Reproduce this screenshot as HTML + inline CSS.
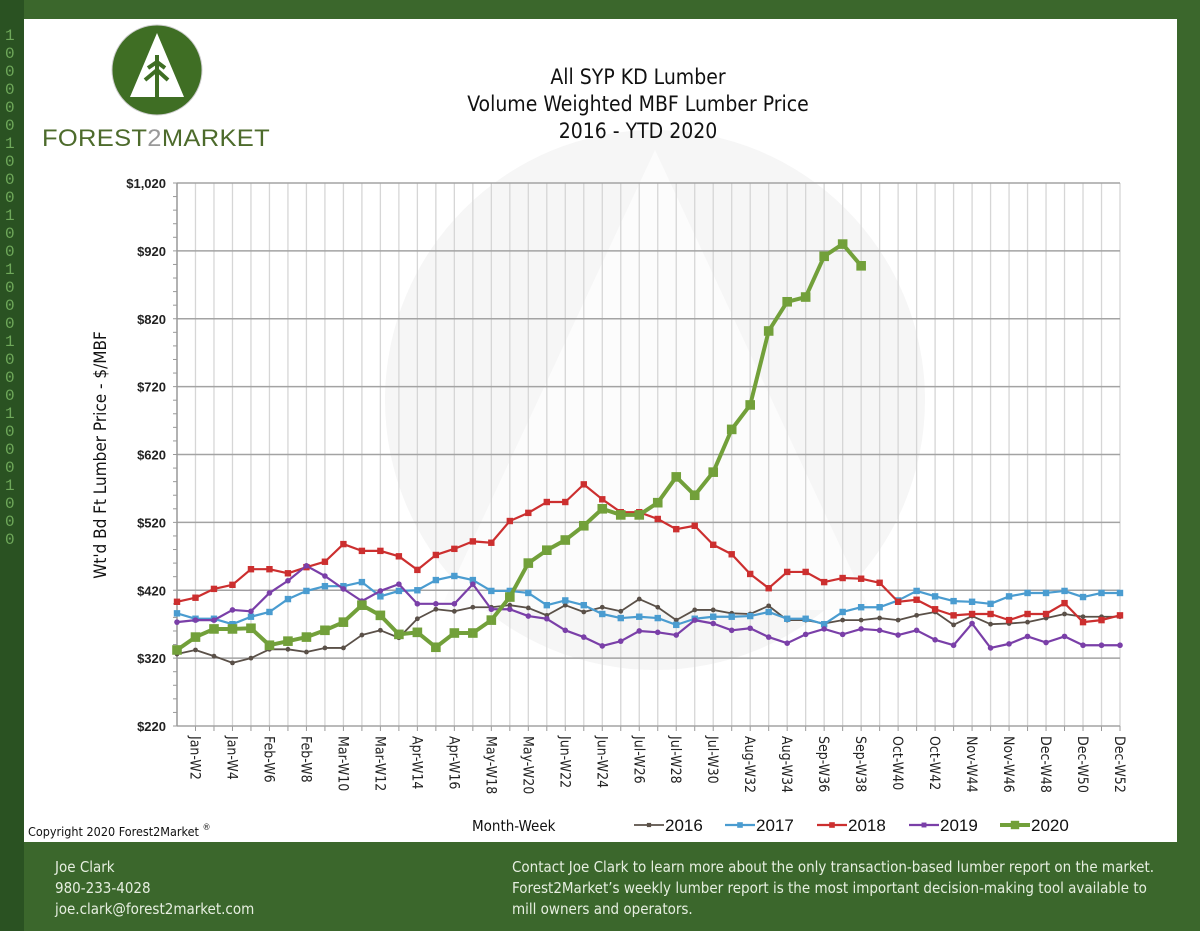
<!DOCTYPE html>
<html><head><meta charset="utf-8"><style>
html,body{margin:0;padding:0;width:1200px;height:931px;overflow:hidden;background:#3b672c;font-family:"Liberation Sans",sans-serif}
#wrap{position:relative;width:1200px;height:931px}
.foot{position:absolute;color:#e6eee0;font-family:"DejaVu Sans Condensed","Liberation Sans",sans-serif;font-size:15px;line-height:21px}
</style></head><body>
<div id="wrap">
<svg width="1200" height="931" style="position:absolute;left:0;top:0">
<rect x="0" y="0" width="24" height="931" fill="#2a5222"/>
<g fill="#6fa85a" font-size="16" font-family="Liberation Mono">
<text x="5" y="40">1</text><text x="5" y="58">0</text><text x="5" y="76">0</text><text x="5" y="94">0</text><text x="5" y="112">0</text><text x="5" y="130">0</text><text x="5" y="148">1</text><text x="5" y="166">0</text><text x="5" y="184">0</text><text x="5" y="202">0</text><text x="5" y="220">1</text><text x="5" y="238">0</text><text x="5" y="256">0</text><text x="5" y="274">1</text><text x="5" y="292">0</text><text x="5" y="310">0</text><text x="5" y="328">0</text><text x="5" y="346">1</text><text x="5" y="364">0</text><text x="5" y="382">0</text><text x="5" y="400">0</text><text x="5" y="418">1</text><text x="5" y="436">0</text><text x="5" y="454">0</text><text x="5" y="472">0</text><text x="5" y="490">1</text><text x="5" y="508">0</text><text x="5" y="526">0</text><text x="5" y="544">0</text>
</g>
<rect x="24" y="19" width="1153" height="823" fill="#fff"/>
<circle cx="655" cy="400" r="270" fill="#f6f6f6"/>
<polygon points="655,150 870,610 440,610" fill="#fcfcfc"/>
<g>
<circle cx="157" cy="70" r="45" fill="#3f6e24" stroke="#ccc" stroke-width="1"/>
<polygon points="157,33 130,97 184,97" fill="#fff"/>
<line x1="157" y1="55" x2="157" y2="98" stroke="#3f6e24" stroke-width="4"/>
<path d="M145,80 L157,70 L168,80 M148,68 L157,62 L165,68" stroke="#3f6e24" stroke-width="4" fill="none"/>
<rect x="135" y="98" width="44" height="8" fill="#3f6e24"/>
</g>
<text x="42" y="146" font-size="24" fill="#4d6b2c" letter-spacing="0.3" textLength="228" lengthAdjust="spacingAndGlyphs">FOREST<tspan fill="#999">2</tspan>MARKET</text>
<g font-family="DejaVu Sans Condensed, Liberation Sans, sans-serif" font-size="21" fill="#111" text-anchor="middle">
<text x="638" y="84">All SYP KD Lumber</text>
<text x="638" y="111">Volume Weighted MBF Lumber Price</text>
<text x="638" y="138">2016 - YTD 2020</text>
</g>
<g id="grid"></g>
<g id="series"></g>
<text transform="translate(106,455) rotate(-90)" text-anchor="middle" font-family="DejaVu Sans Condensed, Liberation Sans, sans-serif" font-size="17" fill="#111">Wt'd Bd Ft Lumber Price - $/MBF</text>
<text x="28" y="836" font-family="DejaVu Sans Condensed, Liberation Sans, sans-serif" font-size="12.5" fill="#111">Copyright 2020 Forest2Market <tspan font-size="9" dy="-6">®</tspan></text>
<text x="472" y="831" font-family="DejaVu Sans Condensed, Liberation Sans, sans-serif" font-size="15" fill="#111">Month-Week</text>
<g id="legend"></g>
</svg>
<div class="foot" style="left:55px;top:857px">Joe Clark<br>980-233-4028<br>joe.clark@forest2market.com</div>
<div class="foot" style="left:512px;top:857px;width:650px">Contact Joe Clark to learn more about the only transaction-based lumber report on the market. Forest2Market’s weekly lumber report is the most important decision-making tool available to mill owners and operators.</div>
</div>
<script>
const years=["2016","2017","2018","2019","2020"];
const s2016=[326,332,323,313,320,333,333,329,335,335,354,361,350,378,392,389,395,395,398,394,383,398,388,395,389,407,395,376,391,391,386,385,397,376,376,371,376,376,379,376,383,388,369,382,370,371,373,379,385,381,381,381];
const s2017=[386,378,378,370,381,388,407,419,426,426,432,411,419,420,435,441,435,419,419,416,398,405,398,385,379,381,379,369,378,381,381,382,388,378,378,370,388,395,395,405,419,411,404,403,400,411,416,416,419,410,416,416];
const s2018=[403,409,422,428,451,451,445,454,462,488,478,478,470,450,472,481,492,490,522,534,550,550,576,554,535,535,525,510,515,487,473,444,423,447,447,432,438,437,431,403,406,392,383,385,385,376,385,385,401,373,376,383];
const s2019=[373,376,376,391,389,416,434,456,441,422,404,419,429,400,400,400,429,392,392,382,378,361,351,338,345,360,358,354,376,371,361,364,351,342,355,363,355,363,361,354,361,347,339,371,335,341,352,343,352,339,339,339];
const s2020=[332,351,363,363,364,339,345,351,361,373,398,383,355,358,336,357,357,376,410,460,479,494,515,540,531,531,549,587,560,594,657,693,802,845,852,912,930,898];
const yTicks=[220,320,420,520,620,720,820,920,1020];
const yTickLabels=["$220","$320","$420","$520","$620","$720","$820","$920","$1,020"];
const months=["Jan","Jan","Jan","Jan","Feb","Feb","Feb","Feb","Mar","Mar","Mar","Mar","Mar","Apr","Apr","Apr","Apr","May","May","May","May","Jun","Jun","Jun","Jun","Jul","Jul","Jul","Jul","Jul","Aug","Aug","Aug","Aug","Sep","Sep","Sep","Sep","Oct","Oct","Oct","Oct","Nov","Nov","Nov","Nov","Dec","Dec","Dec","Dec","Dec","Dec"];
const NS="http://www.w3.org/2000/svg";
const X0=177,X1=1120,Y0=726,Y1=183,VMIN=220,VMAX=1020;
const xs=w=>X0+(w-1)*(X1-X0)/51;
const ys=v=>Y0-(v-VMIN)*(Y0-Y1)/(VMAX-VMIN);
function mk(tag,at,parent){const e=document.createElementNS(NS,tag);for(const k in at)e.setAttribute(k,at[k]);parent.appendChild(e);return e;}
const grid=document.getElementById('grid');
for(let w=2;w<=52;w++){
  const l=mk('line',{x1:xs(w),x2:xs(w),y1:Y1,y2:Y0,stroke:'#d6d6d6','stroke-width':1.3},grid);
  
  
  const t=mk('line',{x1:xs(w),x2:xs(w),y1:Y0,y2:Y0+5,stroke:'#999'},grid);
  
  
}
for(let v=VMIN;v<=VMAX;v+=20){
  const t=mk('line',{x1:X0-4,x2:X0,y1:ys(v),y2:ys(v),stroke:'#999'},grid);
  
  
}
yTicks.forEach((v,i)=>{
  const l=mk('line',{x1:X0,x2:X1,y1:ys(v),y2:ys(v),stroke:'#a3a3a3','stroke-width':1.6},grid);
  
  
  const t=mk('text',{x:166,y:ys(v)+5,'text-anchor':'end','font-size':13,'font-weight':'bold',fill:'#222'},grid);
  t.textContent=yTickLabels[i];
  
  
});
const ax=mk('line',{x1:X0,x2:X0,y1:Y1,y2:Y0,stroke:'#999','stroke-width':1.5},grid);


for(let w=2;w<=52;w+=2){
  const t=mk('text',{transform:`translate(${xs(w)-5},${Y0+10}) rotate(90)`,'font-size':14,fill:'#222','font-family':'DejaVu Sans Condensed, Liberation Sans, sans-serif'},grid);
  t.textContent=months[w-1]+'-W'+w;
  
  
}
const data=[s2016,s2017,s2018,s2019,s2020];
const colors=['#5a5048','#4a9cd0','#cc2f2f','#7a3fa8','#72a03a'];
const widths=[1.8,2.2,2.2,2.2,4];
const msz=[3,4,4,3.5,6];
const ser=document.getElementById('series');
data.forEach((arr,si)=>{
  const g=mk('g',{},ser);
  
  
  const pts=arr.map((v,i)=>xs(i+1)+','+ys(v)).join(' ');
  const pl=mk('polyline',{points:pts,fill:'none',stroke:colors[si],'stroke-width':widths[si],'stroke-linejoin':'round'},g);
  
  
  arr.forEach((v,i)=>{
    const s=msz[si];
    let m;
    if(si===0||si===3) m=mk('circle',{cx:xs(i+1),cy:ys(v),r:s*0.8,fill:colors[si]},g);
    else m=mk('rect',{x:xs(i+1)-s/2*1.6,y:ys(v)-s/2*1.6,width:s*1.6,height:s*1.6,fill:colors[si]},g);
    
    
  });
});
const leg=document.getElementById('legend');
const lx=[634,725,817,909,1000];
years.forEach((y,i)=>{
  const g=mk('g',{},leg);
  
  
  mk('line',{x1:lx[i],x2:lx[i]+30,y1:825,y2:825,stroke:colors[i],'stroke-width':widths[i]},g);
  const s=msz[i]*1.4;
  mk('rect',{x:lx[i]+15-s/2,y:825-s/2,width:s,height:s,fill:colors[i]},g);
  const t=mk('text',{x:lx[i]+31,y:831,'font-size':17,fill:'#111'},g);
  t.textContent=y;
});
</script>
</body></html>
